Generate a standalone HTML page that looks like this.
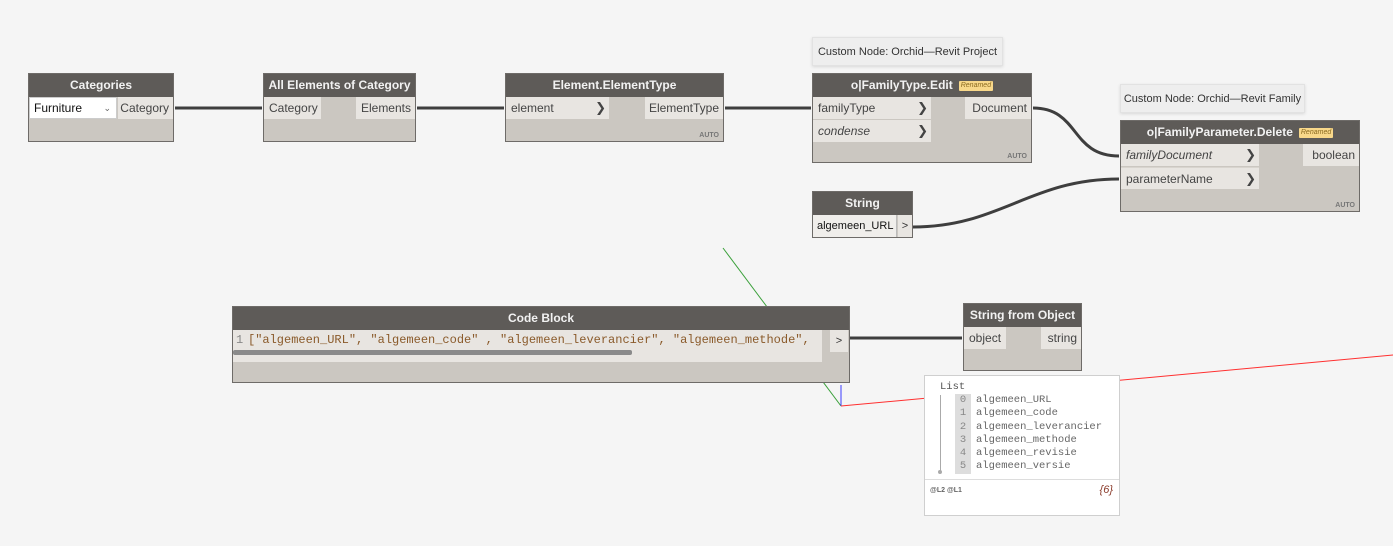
<!DOCTYPE html>
<html><head><meta charset="utf-8">
<style>
*{box-sizing:border-box;margin:0;padding:0}
body{width:1393px;height:546px;background:#f5f5f5;position:relative;overflow:hidden;font-family:"Liberation Sans","DejaVu Sans",sans-serif;font-size:12px;color:#333}
.n{position:absolute;background:#cbc7c1;border:1px solid #6e6b68}
.h{height:23px;background:#5e5b58;color:#f2f2f2;font-weight:bold;text-align:center;line-height:23px;font-size:12px}
.p{position:absolute;height:22px;background:#e8e5e1;line-height:22px;padding-left:5px;font-size:12px;color:#444}
.o{position:absolute;height:22px;background:#e8e5e1;line-height:22px;padding-right:4px;text-align:right;font-size:12px;color:#444}
.ar{position:absolute;right:3px;top:0;font-weight:bold;font-size:13px;color:#444}
.auto{position:absolute;right:4px;bottom:2px;font-size:7px;font-weight:bold;color:#777}
.tip{position:absolute;background:#eeeeee;border:1px solid #e2e2e2;box-shadow:0 1px 3px rgba(0,0,0,.12);font-size:11px;color:#333;line-height:28px;text-align:center}
.badge{display:inline-block;background:#f8d88a;color:#8a6a20;font-size:7px;font-style:italic;padding:0 2px;line-height:10px;vertical-align:middle;margin-left:6px;border-radius:1px;font-weight:normal}
.mono{font-family:"Liberation Mono","DejaVu Sans Mono",monospace}
</style></head><body>
<svg width="1393" height="546" style="position:absolute;left:0;top:0">
<line x1="723" y1="248" x2="841" y2="406" stroke="#3aa03a" stroke-width="1"/>
<line x1="841" y1="385" x2="841" y2="406" stroke="#3a3aff" stroke-width="1"/>
<line x1="841" y1="406" x2="1393" y2="355" stroke="#ff3030" stroke-width="1"/>
<g stroke="#3e3e3e" stroke-width="3" fill="none">
<path d="M175 108 L262 108"/>
<path d="M417 108 L504 108"/>
<path d="M725 108 L811 108"/>
<path d="M1033 108 C1080 108,1070 156,1119 156"/>
<path d="M913 227 C1000 227,1030 179,1119 179"/>
<path d="M850 338 L962 338"/>
</g>
</svg>

<div class="n" style="left:28px;top:73px;width:146px;height:69px">
<div class="h">Categories</div>
<div style="position:absolute;left:0;top:23px;width:88px;height:22px;background:#fff;border:1px solid #ccc;line-height:20px;padding-left:4px;font-size:12px;color:#111">Furniture<span style="position:absolute;right:5px;font-size:9px;color:#666">&#8964;</span></div>
<div class="o" style="left:89px;top:23px;width:55px">Category</div>
</div>

<div class="n" style="left:263px;top:73px;width:153px;height:69px">
<div class="h">All Elements of Category</div>
<div class="p" style="left:0;top:23px;width:57px">Category</div>
<div class="o" style="left:92px;top:23px;width:59px">Elements</div>
</div>

<div class="n" style="left:505px;top:73px;width:219px;height:69px">
<div class="h">Element.ElementType</div>
<div class="p" style="left:0;top:23px;width:103px">element<span class="ar">&#10095;</span></div>
<div class="o" style="left:139px;top:23px;width:78px">ElementType</div>
<div class="auto">AUTO</div>
</div>

<div class="tip" style="left:812px;top:37px;width:191px;height:29px">Custom Node: Orchid—Revit Project</div>
<div class="tip" style="left:1120px;top:84px;width:185px;height:29px">Custom Node: Orchid—Revit Family</div>

<div class="n" style="left:812px;top:73px;width:220px;height:90px">
<div class="h">o|FamilyType.Edit<span class="badge">Renamed</span></div>
<div class="p" style="left:0;top:23px;width:118px">familyType<span class="ar">&#10095;</span></div>
<div class="p" style="left:0;top:46px;width:118px;font-style:italic">condense<span class="ar" style="font-style:normal">&#10095;</span></div>
<div class="o" style="left:152px;top:23px;width:66px">Document</div>
<div class="auto">AUTO</div>
</div>

<div class="n" style="left:1120px;top:120px;width:240px;height:92px">
<div class="h">o|FamilyParameter.Delete<span class="badge">Renamed</span></div>
<div class="p" style="left:0;top:23px;width:138px;font-style:italic">familyDocument<span class="ar" style="font-style:normal">&#10095;</span></div>
<div class="p" style="left:0;top:46px;width:138px;border-top:1px solid #d8d4ce">parameterName<span class="ar">&#10095;</span></div>
<div class="o" style="left:182px;top:23px;width:56px">boolean</div>
<div class="auto">AUTO</div>
</div>

<div class="n" style="left:812px;top:191px;width:101px;height:47px">
<div class="h">String</div>
<div style="position:absolute;left:0;top:23px;width:84px;height:22px;background:#f0eeeb;border-right:1px solid #bbb;line-height:22px;padding-left:4px;font-size:11px;color:#111;white-space:nowrap;overflow:hidden">algemeen_URL</div>
<div style="position:absolute;left:85px;top:23px;width:14px;height:22px;background:#e8e5e1;line-height:22px;text-align:center;font-size:11px">&gt;</div>
</div>

<div class="n" style="left:232px;top:306px;width:618px;height:77px">
<div class="h">Code Block</div>
<div style="position:absolute;left:0;top:23px;width:589px;height:32px;background:#e8e5e1"></div>
<div class="mono" style="position:absolute;left:3px;top:24px;font-size:12px;line-height:18px;color:#888">1</div>
<div class="mono" style="position:absolute;left:15px;top:24px;font-size:12px;line-height:18px;color:#8a5a2a;white-space:nowrap">["algemeen_URL", "algemeen_code" , "algemeen_leverancier", "algemeen_methode",</div>
<div style="position:absolute;left:0;top:43px;width:399px;height:5px;background:#8a8a8a;border-radius:2px"></div>
<div style="position:absolute;left:597px;top:23px;width:18px;height:22px;background:#e8e5e1;text-align:center;line-height:22px;font-size:11px">&gt;</div>
</div>

<div class="n" style="left:963px;top:303px;width:119px;height:68px">
<div class="h">String from Object</div>
<div class="p" style="left:0;top:23px;width:42px">object</div>
<div class="o" style="left:77px;top:23px;width:40px">string</div>
</div>

<div style="position:absolute;left:924px;top:375px;width:196px;height:141px;background:#fff;border:1px solid #cfcfcf">
<div class="mono" style="position:absolute;left:15px;top:5px;font-size:10.5px;color:#555">List</div>
<div style="position:absolute;left:15px;top:19px;width:1px;height:77px;background:#aaa"></div>
<div style="position:absolute;left:13px;top:94px;width:4px;height:4px;border-radius:2px;background:#aaa"></div>
<div class="mono" style="position:absolute;left:30px;top:18px;font-size:10.5px;line-height:13.3px;color:#666">
<div><span style="display:inline-block;width:16px;background:#ddd;text-align:center;color:#888;margin-right:5px">0</span>algemeen_URL</div>
<div><span style="display:inline-block;width:16px;background:#ddd;text-align:center;color:#888;margin-right:5px">1</span>algemeen_code</div>
<div><span style="display:inline-block;width:16px;background:#ddd;text-align:center;color:#888;margin-right:5px">2</span>algemeen_leverancier</div>
<div><span style="display:inline-block;width:16px;background:#ddd;text-align:center;color:#888;margin-right:5px">3</span>algemeen_methode</div>
<div><span style="display:inline-block;width:16px;background:#ddd;text-align:center;color:#888;margin-right:5px">4</span>algemeen_revisie</div>
<div><span style="display:inline-block;width:16px;background:#ddd;text-align:center;color:#888;margin-right:5px">5</span>algemeen_versie</div>
</div>
<div style="position:absolute;left:0;top:103px;width:194px;height:1px;background:#ddd"></div>
<div style="position:absolute;left:5px;top:111px;font-size:7px;font-weight:bold;color:#666">@L2 @L1</div>
<div style="position:absolute;right:6px;top:108px;font-size:11px;font-style:italic;color:#8a3a2a">{6}</div>
</div>
</body></html>
